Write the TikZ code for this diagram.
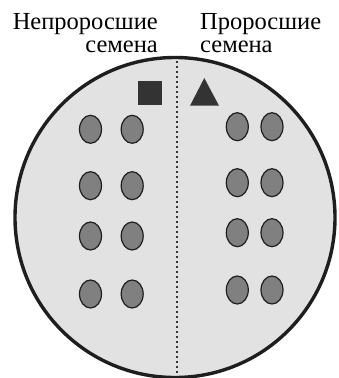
\documentclass[tikz,border=0pt]{standalone}
\usepackage{fontspec}
\setmainfont{Liberation Serif}
\usepackage{tikz}
\usetikzlibrary{shapes.geometric}
\definecolor{dishgray}{HTML}{E2E2E2}
\definecolor{seedgray}{HTML}{808080}
\definecolor{markgray}{HTML}{333333}
\definecolor{rimblack}{HTML}{1E1E1E}

\begin{document}
\begin{tikzpicture}[x=1pt,y=-1pt,
  dish/.style={circle,draw=rimblack,line width=3.4pt,fill=dishgray,minimum size=320pt,inner sep=0pt},
  seed/.style={ellipse,draw=rimblack,line width=1.2pt,fill=seedgray,minimum width=22pt,minimum height=28pt,inner sep=0pt},
  marker/.style={fill=markgray,inner sep=0pt},
  lbl/.style={font=\fontsize{24.5}{23.5}\selectfont,inner sep=0pt}]
  \useasboundingbox (0,0) rectangle (338,378);
  \node[dish] (dish) at (175,217.5) {};
  \coordinate (divtop) at (177,61);
  \coordinate (divbot) at (177,374);
  \draw[markgray,line width=1.3pt,dash pattern=on 2.2pt off 2.8pt] (divtop) -- (divbot);
  \node[lbl,align=right,anchor=north east] (unsprouted) at (158,13) {Непроросшие\\семена};
  \node[lbl,align=left,anchor=north west] (sprouted) at (200,13) {Проросшие\\семена};
  \node[marker,minimum size=24pt] (square) at (150,93) {};
  \fill[markgray] (204.3,78) -- (219,105.7) -- (190,105.7) -- cycle;
  % left half
  \node[seed] (l11) at (90.5,129.3) {};
  \node[seed] (l12) at (132.2,129.3) {};
  \node[seed] (l21) at (90.5,185.7) {};
  \node[seed] (l22) at (132.2,185.7) {};
  \node[seed] (l31) at (90.5,236) {};
  \node[seed] (l32) at (132.2,236) {};
  \node[seed] (l41) at (90.5,294) {};
  \node[seed] (l42) at (132.2,294) {};
  % right half
  \node[seed] (r11) at (237.3,126.7) {};
  \node[seed] (r12) at (272,126.7) {};
  \node[seed] (r21) at (237.3,182.7) {};
  \node[seed] (r22) at (272,182.7) {};
  \node[seed] (r31) at (237.3,232.7) {};
  \node[seed] (r32) at (272,232.7) {};
  \node[seed] (r41) at (237.3,290) {};
  \node[seed] (r42) at (272,290) {};
\end{tikzpicture}
\end{document}
